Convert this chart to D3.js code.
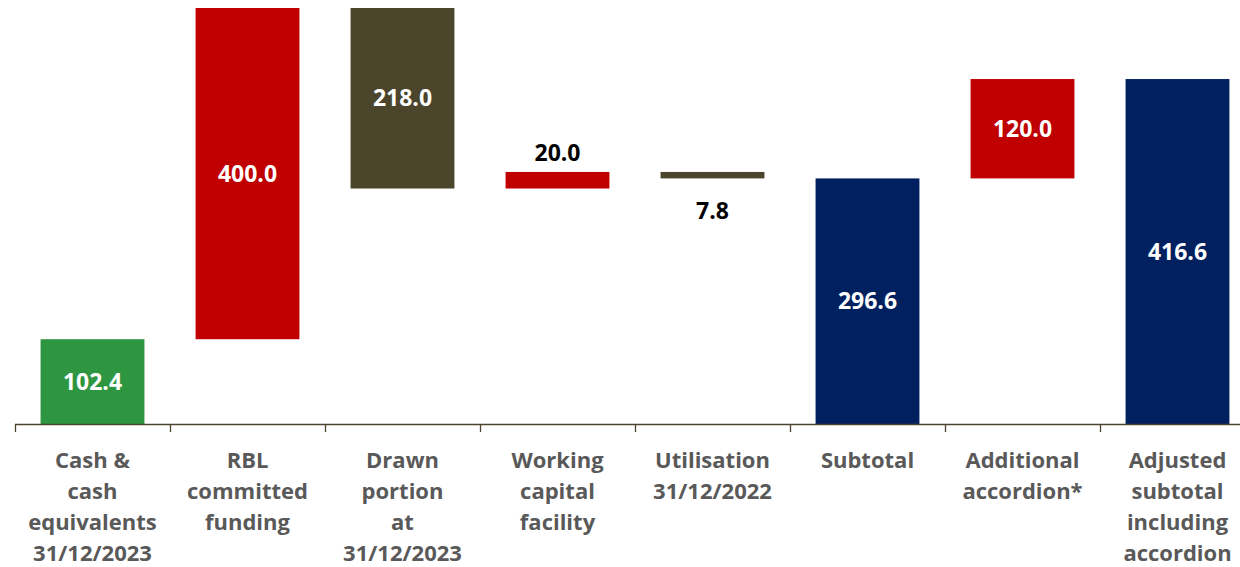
<!DOCTYPE html>
<html>
<head>
<meta charset="utf-8">
<script src="https://cdn.jsdelivr.net/npm/d3@7"></script>
<style>
  html, body { margin: 0; padding: 0; background: #fff; }
  svg { display: block; }
  text { font-family: "Open Sans", "Noto Sans", sans-serif; font-weight: 700; }
</style>
</head>
<body>
<svg id="chart" width="1240" height="567"></svg>
<script>
// Liquidity bridge: step categories, step amounts and step kinds
const categories = [
  ["Cash &", "cash", "equivalents", "31/12/2023"],
  ["RBL", "committed", "funding"],
  ["Drawn", "portion", "at", "31/12/2023"],
  ["Working", "capital", "facility"],
  ["Utilisation", "31/12/2022"],
  ["Subtotal"],
  ["Additional", "accordion*"],
  ["Adjusted", "subtotal", "including", "accordion"]
];
const values = [102.4, 400.0, 218.0, 20.0, 7.8, 296.6, 120.0, 416.6];
// "total" bars start at zero, "up" adds to the running sum, "down" subtracts
const kinds = ["total", "up", "down", "up", "down", "total", "up", "total"];
const colors = ["#2E9540", "#C00000", "#4B452C", "#C00000", "#4B452C", "#002060", "#C00000", "#002060"];
// label placement: inside the bar, above it, or below it
const labelPos = ["in", "in", "in", "above", "below", "in", "in", "in"];

// build running start/end for each step
let running = 0;
const steps = values.map((v, i) => {
  let y0, y1;
  if (kinds[i] === "total") { y0 = 0; y1 = v; running = v; }
  else if (kinds[i] === "up") { y0 = running; y1 = running + v; running = y1; }
  else { y0 = running - v; y1 = running; running = y0; }
  return { i, v, y0, y1, kind: kinds[i] };
});

const svg = d3.select("#chart");
const x = d3.scaleBand()
  .domain(d3.range(categories.length))
  .range([15, 1255])
  .paddingInner(0.33)
  .paddingOuter(0.165);
const y = d3.scaleLinear()
  .domain([0, d3.max(steps, d => d.y1)])
  .range([424, 8]);

const step = x.step();
const axisColor = "#4B452C";

// bars
svg.append("g").selectAll("rect")
  .data(steps)
  .join("rect")
  .attr("x", d => x(d.i))
  .attr("width", x.bandwidth())
  .attr("y", d => y(d.y1))
  .attr("height", d => y(d.y0) - y(d.y1))
  .attr("fill", d => colors[d.i]);

// category axis: baseline with tick marks between categories
const axis = svg.append("g");
axis.append("line")
  .attr("x1", 15).attr("x2", 1255)
  .attr("y1", y(0) + 0.5).attr("y2", y(0) + 0.5)
  .attr("stroke", axisColor).attr("stroke-width", 1.3);
axis.selectAll("line.tick")
  .data(d3.range(categories.length + 1))
  .join("line")
  .attr("class", "tick")
  .attr("x1", i => 15 + i * step + 0.5).attr("x2", i => 15 + i * step + 0.5)
  .attr("y1", y(0)).attr("y2", y(0) + 8)
  .attr("stroke", axisColor).attr("stroke-width", 1.3);

// category labels
const lineH = 31;
axis.selectAll("text.cat")
  .data(categories)
  .join("text")
  .attr("class", "cat")
  .attr("text-anchor", "middle")
  .attr("font-size", 22)
  .attr("fill", "#595959")
  .each(function(lines, i) {
    const t = d3.select(this);
    lines.forEach((ln, k) => {
      t.append("tspan")
        .attr("x", x(i) + x.bandwidth() / 2)
        .attr("y", 468 + k * lineH)
        .text(ln);
    });
  });

// value labels
svg.append("g").selectAll("text")
  .data(steps)
  .join("text")
  .attr("text-anchor", "middle")
  .attr("font-size", 23)
  .attr("x", d => x(d.i) + x.bandwidth() / 2)
  .attr("y", d => {
    const p = labelPos[d.i];
    if (p === "in") return (y(d.y0) + y(d.y1)) / 2 + 8;
    if (p === "above") return y(d.y1) - 11;
    return y(d.y0) + 41;
  })
  .attr("fill", d => labelPos[d.i] === "in" ? "#FFFFFF" : "#000000")
  .text(d => d3.format(".1f")(d.v));
</script>
</body>
</html>
